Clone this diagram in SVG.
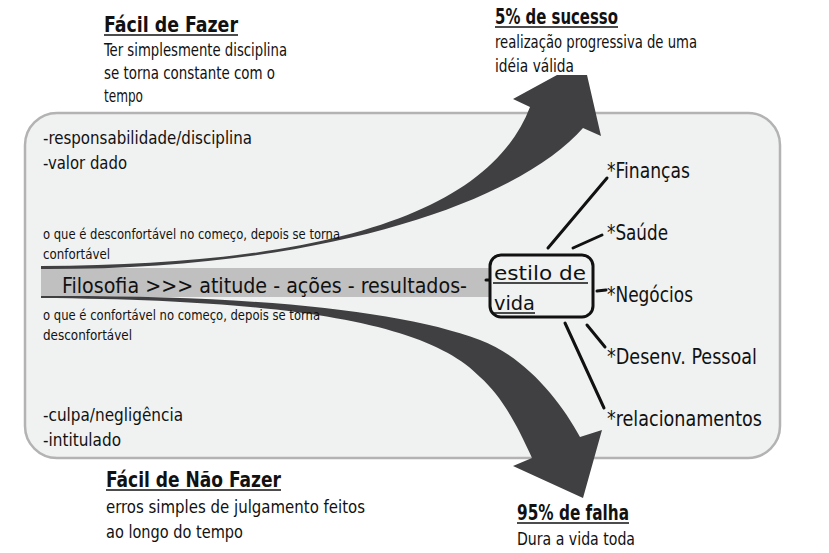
<svg xmlns="http://www.w3.org/2000/svg" width="829" height="553" viewBox="0 0 829 553">
<style>
text{font-family:"DejaVu Sans Condensed","DejaVu Sans","Liberation Sans",sans-serif;fill:#111}
.t{font-size:22px;font-weight:bold}
.b{font-size:17px}
.s{font-size:14px}
.m{font-size:21px}
.l{font-size:22px}
.e{font-size:20px}
.ul{stroke:#111;stroke-width:1.6}
.con{stroke:#111;stroke-width:3;stroke-linecap:round;fill:none}
.arr{fill:#404042}
</style>
<rect width="829" height="553" fill="#fff"/>
<g id="panel">
<rect x="25" y="113" width="755" height="345" rx="32" fill="#f0f1f1" stroke="#b3b3b3" stroke-width="2.5"/>
</g>
<g id="band">
<rect x="41" y="268" width="452" height="29" fill="#c0c0c0"/>
<text class="m" x="62" y="293" textLength="405" lengthAdjust="spacingAndGlyphs">Filosofia &gt;&gt;&gt; atitude - ações - resultados-</text>
</g>
<g id="connectors">
<path class="arr" d="M41,266 C330,265 490,212 530,107 L513,99 L557,75 L587,75 L601,136 L583,128 C520,200 330,270 41,269 Z"/>
<path class="arr" d="M41,296 C250,295 400,310 480,340 C525,357 560,400 580,437 L602,430 L583,498 L513,466 L532,458 C515,420 500,395 480,377 C430,325 300,300 41,298 Z"/>
<line class="con" x1="486" y1="280" x2="492" y2="280"/>
<line class="con" x1="548" y1="248" x2="607" y2="178"/>
<line class="con" x1="573" y1="248" x2="602" y2="235"/>
<line class="con" x1="597" y1="291" x2="606" y2="290"/>
<line class="con" x1="587" y1="325" x2="605" y2="347"/>
<line class="con" x1="565" y1="323" x2="604" y2="408"/>
</g>
<g id="estilo">
<rect x="490" y="255" width="103" height="62" rx="11" fill="#f0f1f1" stroke="#111" stroke-width="3"/>
<text class="e" x="494" y="280" textLength="92" lengthAdjust="spacingAndGlyphs">estilo de</text>
<line class="ul" x1="493" y1="283" x2="588" y2="283"/>
<text class="e" x="494" y="310" textLength="41" lengthAdjust="spacingAndGlyphs">vida</text>
<line class="ul" x1="493" y1="313" x2="535" y2="313"/>
</g>
<g id="areas">
<text class="l" x="607" y="178" textLength="83" lengthAdjust="spacingAndGlyphs">*Finanças</text>
<text class="l" x="607" y="240" textLength="61" lengthAdjust="spacingAndGlyphs">*Saúde</text>
<text class="l" x="607" y="302" textLength="86" lengthAdjust="spacingAndGlyphs">*Negócios</text>
<text class="l" x="607" y="364" textLength="150" lengthAdjust="spacingAndGlyphs">*Desenv. Pessoal</text>
<text class="l" x="607" y="426" textLength="155" lengthAdjust="spacingAndGlyphs">*relacionamentos</text>
</g>
<g id="facil-fazer">
<text class="t" x="104" y="32" textLength="134" lengthAdjust="spacingAndGlyphs">Fácil de Fazer</text>
<line class="ul" x1="104" y1="35" x2="238" y2="35"/>
<text class="b" x="104" y="56" textLength="183" lengthAdjust="spacingAndGlyphs">Ter simplesmente disciplina</text>
<text class="b" x="104" y="79" textLength="171" lengthAdjust="spacingAndGlyphs">se torna constante com o</text>
<text class="b" x="104" y="102" textLength="39" lengthAdjust="spacingAndGlyphs">tempo</text>
</g>
<g id="sucesso">
<text class="t" x="495" y="24" textLength="123" lengthAdjust="spacingAndGlyphs">5% de sucesso</text>
<line class="ul" x1="495" y1="27" x2="618" y2="27"/>
<text class="b" x="495" y="48" textLength="202" lengthAdjust="spacingAndGlyphs">realização progressiva de uma</text>
<text class="b" x="495" y="72" textLength="79" lengthAdjust="spacingAndGlyphs">idéia válida</text>
</g>
<g id="positivos">
<text class="b" x="43" y="144" textLength="209" lengthAdjust="spacingAndGlyphs">-responsabilidade/disciplina</text>
<text class="b" x="43" y="169" textLength="84" lengthAdjust="spacingAndGlyphs">-valor dado</text>
<text class="s" x="43" y="239" textLength="297" lengthAdjust="spacingAndGlyphs">o que é desconfortável no começo, depois se torna</text>
<text class="s" x="43" y="259" textLength="67" lengthAdjust="spacingAndGlyphs">confortável</text>
</g>
<g id="negativos">
<text class="s" x="43" y="320" textLength="277" lengthAdjust="spacingAndGlyphs">o que é confortável no começo, depois se torna</text>
<text class="s" x="43" y="340" textLength="89" lengthAdjust="spacingAndGlyphs">desconfortável</text>
<text class="b" x="43" y="421" textLength="140" lengthAdjust="spacingAndGlyphs">-culpa/negligência</text>
<text class="b" x="43" y="446" textLength="78" lengthAdjust="spacingAndGlyphs">-intitulado</text>
</g>
<g id="facil-nao-fazer">
<text class="t" x="106" y="487" textLength="175" lengthAdjust="spacingAndGlyphs">Fácil de Não Fazer</text>
<line class="ul" x1="106" y1="490" x2="281" y2="490"/>
<text class="b" x="106" y="513" textLength="259" lengthAdjust="spacingAndGlyphs">erros simples de julgamento feitos</text>
<text class="b" x="106" y="538" textLength="137" lengthAdjust="spacingAndGlyphs">ao longo do tempo</text>
</g>
<g id="falha">
<text class="t" x="517" y="520" textLength="112" lengthAdjust="spacingAndGlyphs">95% de falha</text>
<line class="ul" x1="517" y1="523" x2="629" y2="523"/>
<text class="b" x="517" y="545" textLength="118" lengthAdjust="spacingAndGlyphs">Dura a vida toda</text>
</g>
</svg>
